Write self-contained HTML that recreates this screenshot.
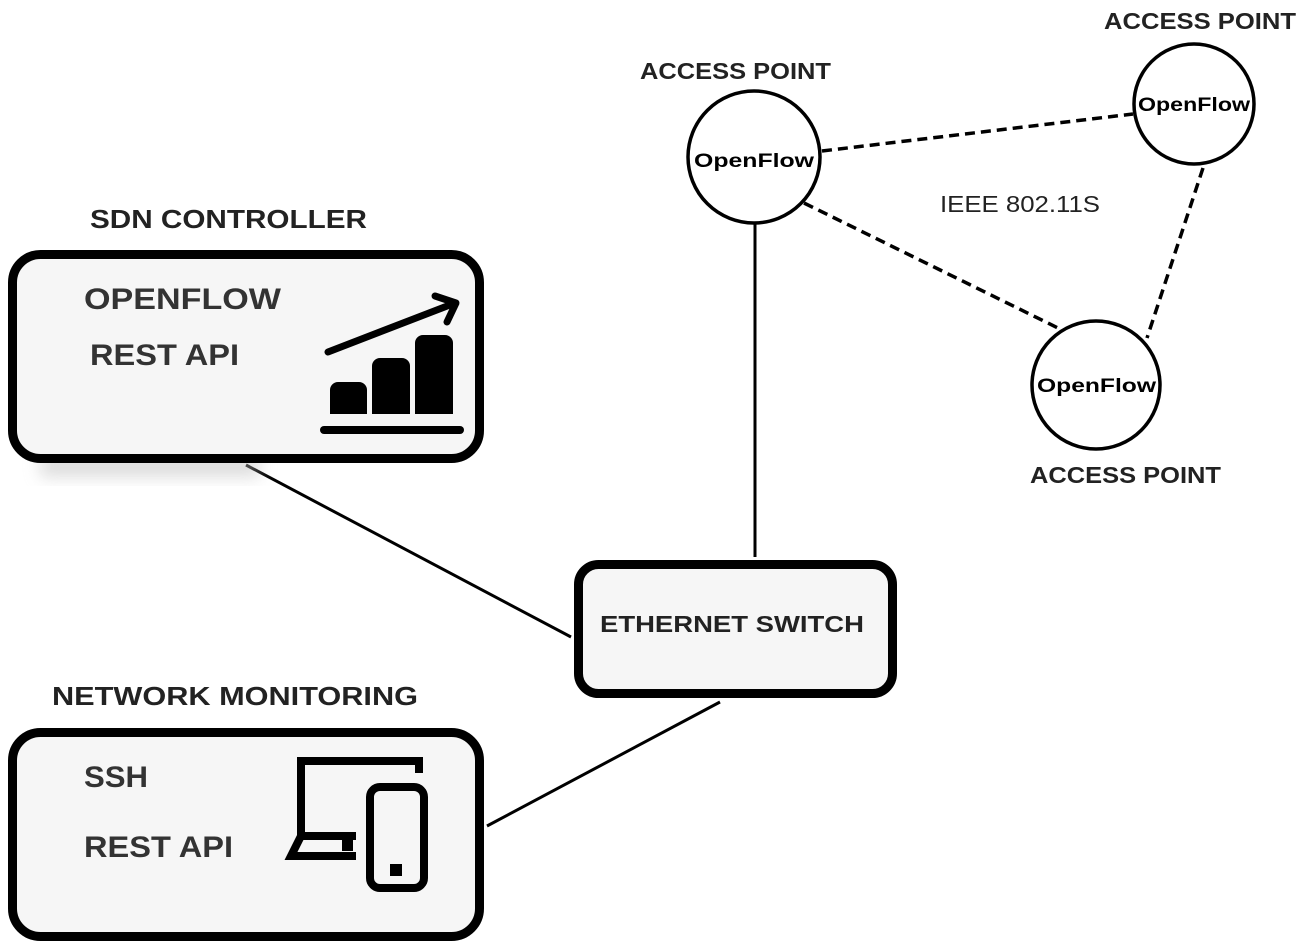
<!DOCTYPE html>
<html><head><meta charset="utf-8"><style>html,body{margin:0;padding:0;background:#fff}svg{display:block}</style></head>
<body>
<svg width="1306" height="950" viewBox="0 0 1306 950" xmlns="http://www.w3.org/2000/svg" font-family="Liberation Sans, sans-serif">
<defs><filter id="sh" x="-20%" y="-20%" width="140%" height="160%"><feGaussianBlur stdDeviation="8"/></filter></defs>
<g stroke="#000" stroke-width="3" fill="none">
<line x1="246" y1="465" x2="571" y2="637"/>
<line x1="720" y1="702" x2="487" y2="826"/>
<line x1="755" y1="222" x2="755" y2="557"/>
</g>
<g stroke="#000" stroke-width="3.5" fill="none" stroke-dasharray="10,6">
<line x1="822" y1="151" x2="1133" y2="114"/>
<line x1="804" y1="203" x2="1058" y2="328"/>
<line x1="1203" y1="168" x2="1147" y2="338"/>
</g>
<rect x="40" y="455" width="220" height="22" fill="#bbb" opacity="0.5" filter="url(#sh)"/>
<rect x="12.5" y="254.5" width="467" height="204" rx="28" fill="#f6f6f6" stroke="#000" stroke-width="9"/>
<rect x="12.5" y="732.5" width="467" height="204" rx="28" fill="#f6f6f6" stroke="#000" stroke-width="9"/>
<rect x="578.5" y="564.5" width="314" height="129" rx="20" fill="#f6f6f6" stroke="#000" stroke-width="9"/>
<g fill="#fff" stroke="#000" stroke-width="3.5">
<circle cx="754" cy="157" r="66"/>
<circle cx="1194" cy="104" r="60"/>
<circle cx="1096" cy="385" r="64"/>
</g>
<g fill="#000">
<path d="M330 414 V390 a8 8 0 0 1 8 -8 H359 a8 8 0 0 1 8 8 V414Z"/>
<path d="M372 414 V366 a8 8 0 0 1 8 -8 H402 a8 8 0 0 1 8 8 V414Z"/>
<path d="M415 414 V343 a8 8 0 0 1 8 -8 H445 a8 8 0 0 1 8 8 V414Z"/>
</g>
<line x1="324" y1="430" x2="460" y2="430" stroke="#000" stroke-width="8" stroke-linecap="round"/>
<g stroke="#000" stroke-width="7" stroke-linecap="round" stroke-linejoin="round" fill="none">
<line x1="328" y1="352" x2="455" y2="303"/>
<polyline points="435,296 456,303 447,322"/>
</g>
<g fill="none" stroke="#000" stroke-width="8">
<polyline points="301,836 301,761 419,761 419,773"/>
<polyline points="356,856 291,856 301,836 356,836"/>
<rect x="370" y="787" width="54" height="101" rx="10"/>
</g>
<rect x="342" y="840" width="11" height="11" fill="#000"/>
<rect x="390" y="864" width="12" height="12" fill="#000"/>
<g fill="#222" font-weight="bold">
<text x="90" y="228" font-size="26" textLength="277" lengthAdjust="spacingAndGlyphs">SDN CONTROLLER</text>
<text x="84" y="309" font-size="30" fill="#333" textLength="197" lengthAdjust="spacingAndGlyphs">OPENFLOW</text>
<text x="90" y="365" font-size="30" fill="#333" textLength="149" lengthAdjust="spacingAndGlyphs">REST API</text>
<text x="52" y="705" font-size="26" textLength="366" lengthAdjust="spacingAndGlyphs">NETWORK MONITORING</text>
<text x="84" y="787" font-size="30" fill="#333" textLength="64" lengthAdjust="spacingAndGlyphs">SSH</text>
<text x="84" y="857" font-size="30" fill="#333" textLength="149" lengthAdjust="spacingAndGlyphs">REST API</text>
<text x="600" y="632" font-size="23" textLength="264" lengthAdjust="spacingAndGlyphs">ETHERNET SWITCH</text>
<text x="640" y="79" font-size="23" textLength="191" lengthAdjust="spacingAndGlyphs">ACCESS POINT</text>
<text x="1104" y="29" font-size="23" textLength="192" lengthAdjust="spacingAndGlyphs">ACCESS POINT</text>
<text x="1030" y="483" font-size="23" textLength="191" lengthAdjust="spacingAndGlyphs">ACCESS POINT</text>
<text x="940" y="212" font-size="23" font-weight="normal" textLength="160" lengthAdjust="spacingAndGlyphs">IEEE 802.11S</text>
</g>
<g fill="#000" font-weight="bold" font-size="19">
<text x="694" y="167" textLength="120" lengthAdjust="spacingAndGlyphs">OpenFlow</text>
<text x="1138" y="111" textLength="112" lengthAdjust="spacingAndGlyphs">OpenFlow</text>
<text x="1037" y="392" textLength="119" lengthAdjust="spacingAndGlyphs">OpenFlow</text>
</g>
</svg>
</body></html>
